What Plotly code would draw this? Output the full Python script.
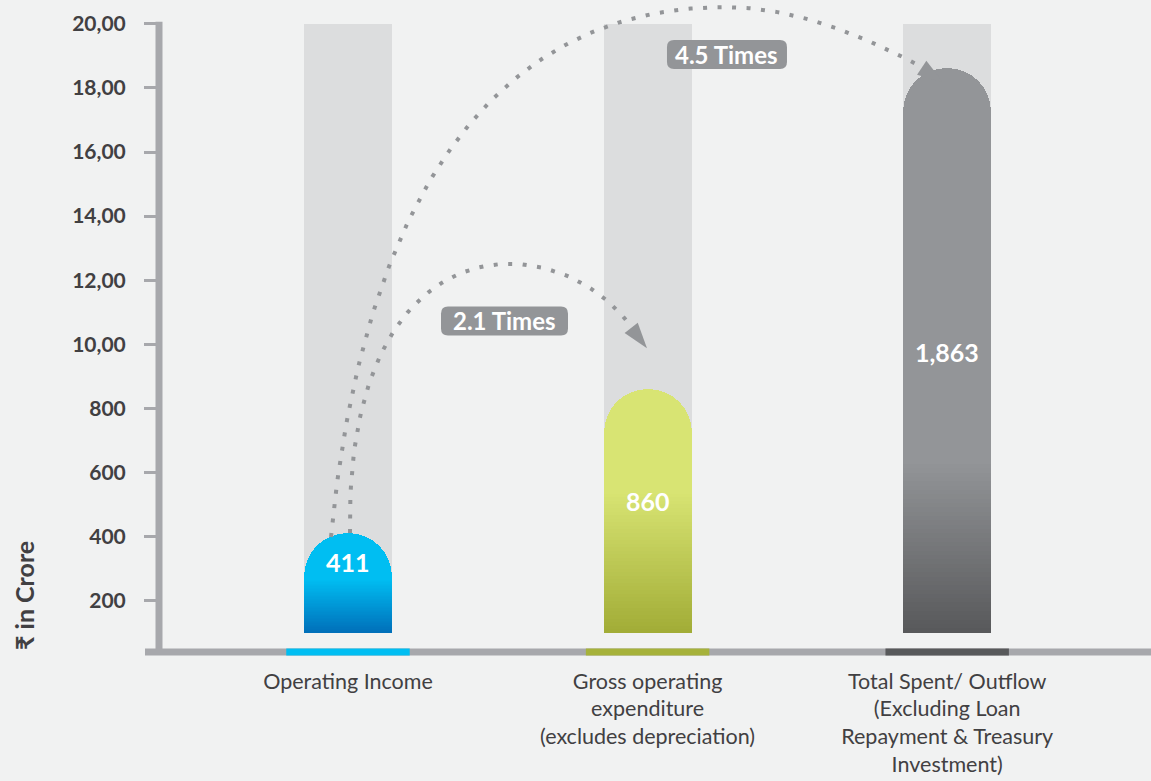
import numpy as np
import plotly.graph_objects as go

# ---------------- data ----------------
categories = [
    "Operating Income",
    "Gross operating<br>expenditure<br>(excludes depreciation)",
    "Total Spent/ Outflow<br>(Excluding Loan<br>Repayment & Treasury<br>Investment)",
]
values = [411, 860, 1863]
value_labels = ["411", "860", "1,863"]
ytick_vals = [200, 400, 600, 800, 1000, 1200, 1400, 1600, 1800, 2000]
ytick_text = ["200", "400", "600", "800", "10,00", "12,00", "14,00", "16,00", "18,00", "20,00"]
ratio_labels = ["2.1 Times", "4.5 Times"]
axis_max = 2000
bar_base = 100

# ---------------- style ----------------
W, H = 1151, 781
ML, MR, MT, MB = 159, 0, 2, 129
XR = [-0.6308, 2.6803]
YR = [40, 2068]
BG = "#F1F2F2"
AXIS = "#A7A8AC"
TEXT = "#414042"
DOT = "#939598"
FONT = "Lato"
BAR_W = 0.294
top_colors = ["#00BEF2", "#D8E473", "#939598"]
bottom_colors = ["#0070BA", "#A2AD37", "#58595B"]
strip_colors = ["#00BEF2", "#A6B23B", "#58595B"]
grad_top = [270, 545, 640]          # where the solid colour turns into gradient
label_y = [321, 511, 976]           # vertical position of value labels
N_GRAD = 40

x_pos = list(range(len(categories)))


def hex2rgb(h):
    h = h.lstrip("#")
    return np.array([int(h[i:i + 2], 16) for i in (0, 2, 4)], dtype=float)


def mix(c1, c2, t):
    a, b = hex2rgb(c1), hex2rgb(c2)
    c = a + (b - a) * t
    return "rgb(%d,%d,%d)" % tuple(np.round(c).astype(int))


def bezier(p0, p1, p2, p3, n=80):
    t = np.linspace(0, 1, n)[:, None]
    p0, p1, p2, p3 = map(np.array, (p0, p1, p2, p3))
    return ((1 - t) ** 3 * p0 + 3 * (1 - t) ** 2 * t * p1
            + 3 * (1 - t) * t ** 2 * p2 + t ** 3 * p3)


def xpaper(x):
    return (x - XR[0]) / (XR[1] - XR[0])


def ypaper(y):
    return (y - YR[0]) / (YR[1] - YR[0])


fig = go.Figure()

# light background columns
fig.add_trace(go.Bar(
    x=x_pos, y=[axis_max - bar_base] * 3, base=[bar_base] * 3, width=BAR_W,
    marker=dict(color="#DCDDDE", line=dict(width=0)), hoverinfo="skip", showlegend=False))

# main rounded bars
fig.add_trace(go.Bar(
    x=x_pos, y=[v - bar_base for v in values], base=[bar_base] * 3, width=BAR_W,
    marker=dict(color=top_colors, line=dict(width=0), cornerradius="50%"),
    hoverinfo="skip", showlegend=False))

# gradient at lower part of each bar
for k in range(N_GRAD):
    frac = 1 - k / N_GRAD
    t = k / (N_GRAD - 1)
    fig.add_trace(go.Bar(
        x=x_pos, y=[(g - bar_base) * frac for g in grad_top], base=[bar_base] * 3,
        width=BAR_W,
        marker=dict(color=[mix(top_colors[i], bottom_colors[i], t) for i in range(3)],
                    line=dict(width=0)),
        hoverinfo="skip", showlegend=False))

# dotted connectors
arc1 = bezier((0.0067, values[0]), (-0.010, 1403), (0.7076, 1372), (0.9479, 1051))
arc2a = bezier((-0.0567, values[0] - 12), (0.0501, 1460), (0.4907, 2052), (1.2583, 2052))
arc2b = bezier((1.2583, 2052), (1.492, 2052), (1.7156, 1965), (1.9159, 1865))
arc2 = np.vstack([arc2a, arc2b[1:]])
for arc in (arc1, arc2):
    fig.add_trace(go.Scatter(
        x=arc[:, 0], y=arc[:, 1], mode="lines",
        line=dict(color=DOT, width=4, dash="4px,10.5px"),
        hoverinfo="skip", showlegend=False))

fig.add_trace(go.Scatter(
    x=[0.998, 1.986], y=[988, 1818], mode="markers", cliponaxis=False,
    marker=dict(symbol="arrow", size=27, angle=[142, 124], color=DOT, line=dict(width=0)),
    hoverinfo="skip", showlegend=False))

shapes = []
# axis lines
shapes.append(dict(type="line", xref="paper", yref="paper", x0=-14 / 992, x1=1, y0=0, y1=0,
                   line=dict(color=AXIS, width=7)))
shapes.append(dict(type="line", xref="paper", yref="paper", x0=0, x1=0, y0=0,
                   y1=ypaper(axis_max) + 2 / 650, line=dict(color=AXIS, width=7)))
for i in x_pos:
    shapes.append(dict(type="line", xref="paper", yref="paper",
                       x0=xpaper(i - 0.206), x1=xpaper(i + 0.206), y0=0, y1=0,
                       line=dict(color=strip_colors[i], width=7)))


def rrect(w, h, r):
    a, b = w / 2, h / 2
    return (f"M{-a + r},{-b} H{a - r} Q{a},{-b} {a},{-b + r} V{b - r} Q{a},{b} {a - r},{b} "
            f"H{-a + r} Q{-a},{b} {-a},{b - r} V{-b + r} Q{-a},{-b} {-a + r},{-b} Z")


boxes = [(0.5224, 1073, 127, 29), (1.2650, 1904, 120, 29)]
annotations = []
for (bx, by, bw, bh), lab in zip(boxes, ratio_labels):
    shapes.append(dict(type="path", xref="x", yref="y", xsizemode="pixel", ysizemode="pixel",
                       xanchor=bx, yanchor=by, path=rrect(bw, bh, 7),
                       fillcolor=DOT, line=dict(width=0), layer="above"))
    annotations.append(dict(x=bx, y=by, xref="x", yref="y", text=lab, showarrow=False,
                            font=dict(family=FONT, size=24, color="white", weight="bold"),
                            xanchor="center", yanchor="middle"))

for i in x_pos:
    annotations.append(dict(x=i, y=label_y[i], xref="x", yref="y", text=value_labels[i],
                            showarrow=False, xanchor="center", yanchor="middle",
                            font=dict(family=FONT, size=25, color="white", weight="bold")))

annotations.append(dict(x=-135 / 992, y=56 / 650, xref="paper", yref="paper",
                        text="₹ in Crore", textangle=-90, showarrow=False,
                        xanchor="center", yanchor="middle",
                        font=dict(family=FONT, size=25, color=TEXT, weight="bold")))

fig.update_layout(
    width=W, height=H, margin=dict(l=ML, r=MR, t=MT, b=MB, autoexpand=False),
    paper_bgcolor=BG, plot_bgcolor=BG, barmode="overlay", bargap=0,
    shapes=shapes, annotations=annotations, showlegend=False,
    font=dict(family=FONT, color=TEXT),
)
fig.update_xaxes(range=XR, showgrid=False, zeroline=False, showline=False, automargin=False,
                 tickvals=x_pos, ticktext=categories, ticks="",
                 tickfont=dict(family=FONT, size=21.5, color=TEXT), ticklabelstandoff=14)
fig.update_yaxes(range=YR, showgrid=False, zeroline=False, showline=False, automargin=False,
                 tickvals=ytick_vals, ticktext=ytick_text, ticks="outside",
                 ticklen=14, tickwidth=3, tickcolor=AXIS, ticklabelstandoff=14,
                 tickfont=dict(family=FONT, size=21, color=TEXT, weight="bold"))

fig.write_html("out.html", config={"displayModeBar": False},
               post_script="document.body.style.margin='0';document.body.style.background='%s';" % BG)
